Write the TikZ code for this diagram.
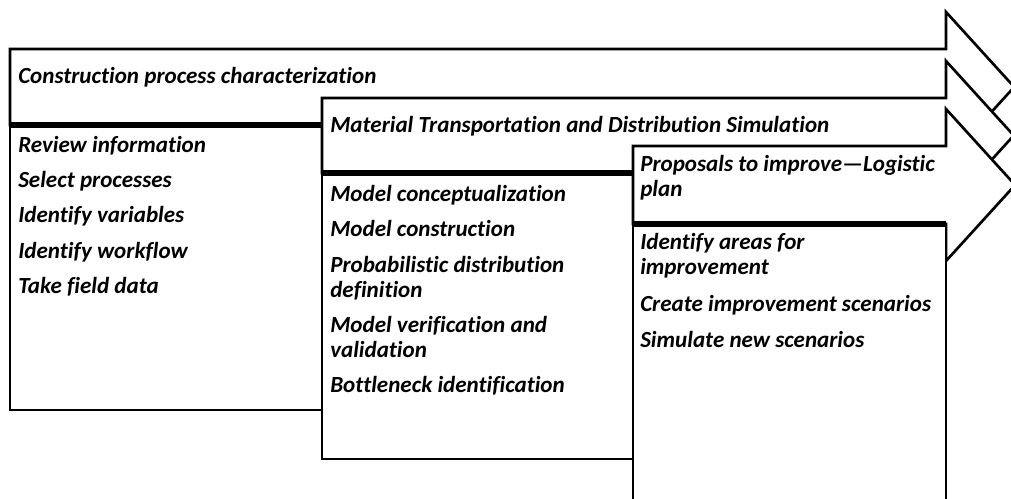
\documentclass[tikz,border=0pt]{standalone}
\usepackage{fontspec}
\setmainfont{Carlito}[Ligatures=NoCommon]
\usetikzlibrary{positioning}

\begin{document}
\begin{tikzpicture}[x=0.75pt,y=-0.75pt,
  thinline/.style={line width=2pt, line join=miter},
  thickline/.style={line width=4.5pt},
  steptext/.style={font=\fontsize{17.3}{18.75}\selectfont\bfseries\itshape, inner sep=0pt, align=left, anchor=base west},
]

% page size of the reference, everything outside is cut
\useasboundingbox (0,0) rectangle (1011,499);
\clip (0,0) rectangle (1011,499);

\pgfmathsetmacro{\headx}{946}
\pgfmathsetmacro{\hover}{37}
\pgfmathsetmacro{\slope}{1.1}

% one block arrow: left, top, bottom of the shaft
\newcommand{\stepArrow}[3]{%
  \filldraw[thinline, fill=white] (#1,#2) -- (\headx,#2) -- (\headx,#2-\hover)
    -- ({\headx+((#3-#2)/2+\hover)/\slope}, {(#2+#3)/2})
    -- (\headx,#3+\hover) -- (\headx,#3) -- (#1,#3) -- cycle;}

% Construction process characterization
\stepArrow{10}{49}{125}
\filldraw[thinline, fill=white] (10,125) rectangle (420,410);
\draw[thickline] (10,125) -- (\headx,125);

% Material transportation and distribution simulation
\stepArrow{322}{98}{173}
\filldraw[thinline, fill=white] (322,173) rectangle (720,459);
\draw[thickline] (322,173) -- (\headx,173);

% Proposals to improve
\stepArrow{633}{146}{224}
\filldraw[thinline, fill=white] (633,224) rectangle (\headx,560);
\draw[thickline] (633,224) -- (\headx,224);

% texts of the first block (two-line texts sit on their last line)
\node[steptext] (charHead) at (18,84) {Construction process characterization};
\node[steptext] (reviewInfo) at (18,153) {Review information};
\node[steptext] (selectProc) at (18,188) {Select processes};
\node[steptext] (identVar) at (18,223) {Identify variables};
\node[steptext] (identFlow) at (18,258) {Identify workflow};
\node[steptext] (fieldData) at (18,293) {Take field data};

% texts of the second block
\node[steptext] (simHead) at (330,133) {Material Transportation and Distribution Simulation};
\node[steptext] (modelConc) at (330,202) {Model conceptualization};
\node[steptext] (modelCons) at (330,237) {Model construction};
\node[steptext] (probDist) at (330,297) {Probabilistic distribution\\definition};
\node[steptext] (modelVer) at (330,357) {Model verification and\\validation};
\node[steptext] (bottleneck) at (330,392) {Bottleneck identification};

% texts of the third block
\node[steptext] (propHead) at (640,197) {Proposals to improve---Logistic\\plan};
\node[steptext] (identAreas) at (640,275) {Identify areas for\\improvement};
\node[steptext] (createScen) at (640,311) {Create improvement scenarios};
\node[steptext] (simScen) at (640,347) {Simulate new scenarios};

\end{tikzpicture}
\end{document}
